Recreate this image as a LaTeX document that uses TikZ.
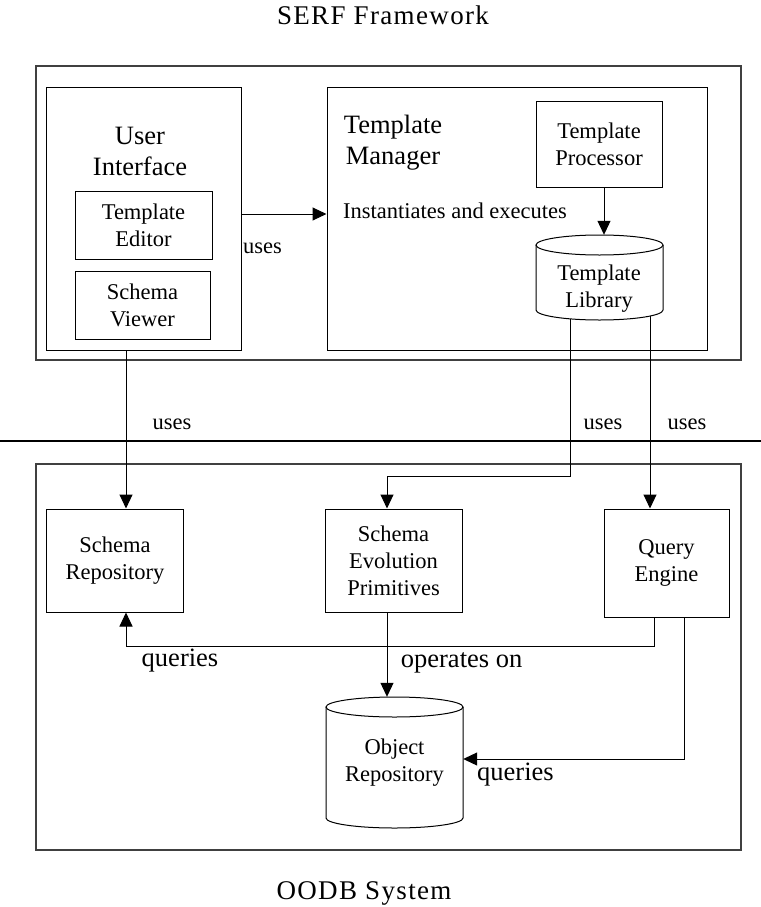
\documentclass[tikz,border=0pt]{standalone}
\usepackage{fontspec}
\setmainfont{Liberation Serif}
\newfontfamily\spacedfont[LetterSpace=5]{Liberation Serif}
\usetikzlibrary{arrows.meta}
\tikzset{
  frame/.style={draw=black!75, line width=1.3bp, inner sep=0pt},
  box/.style={draw, line width=1bp, inner sep=0pt, align=center,
    font=\fontsize{22.5bp}{27bp}\selectfont},
  hidden/.style={inner sep=0pt},
  smalltxt/.style={inner sep=0pt, align=center, font=\fontsize{22.5bp}{27bp}\selectfont},
  bigtxt/.style={inner sep=0pt, align=center, font=\fontsize{26.5bp}{31.5bp}\selectfont},
  titletxt/.style={inner sep=0pt, font=\spacedfont\fontsize{27bp}{30bp}\selectfont},
  arr/.style={-{Triangle[length=14bp,width=13bp]}, line width=1bp},
  conn/.style={line width=1bp},
  cyl/.style={line width=1bp}
}
\begin{document}
\begin{tikzpicture}[x=1bp,y=-1bp]
\useasboundingbox (0,0) rectangle (761,907);

% titles
\node[titletxt, anchor=base] (serftitle) at (383,24) {SERF Framework};
\node[titletxt, anchor=base] (oodbtitle) at (364,899) {OODB System};

% frames
\node[frame, minimum width=705bp, minimum height=294bp] (serf) at (388.5,213) {};
\node[frame, minimum width=705bp, minimum height=386bp] (oodb) at (388.5,657) {};
\draw[line width=1.6bp] (0,441) coordinate (sepL) -- (761,441) coordinate (sepR);

% upper part
\node[box, minimum width=194bp, minimum height=262bp] (ui) at (144,219) {};
\node[bigtxt] (uitxt) at (140,151.5) {User\\Interface};
\node[box, minimum width=137bp, minimum height=68bp] (te) at (143.5,225) {Template\\Editor};
\node[box, minimum width=135bp, minimum height=68bp] (sv) at (142.5,305) {Schema\\Viewer};

\node[box, minimum width=380bp, minimum height=262bp] (tm) at (517,219) {};
\node[bigtxt] (tmtxt) at (393,142.8) {Template\\Manager};
\node[smalltxt, anchor=base west] (inst) at (343,218) {Instantiates and executes};
\node[box, minimum width=126bp, minimum height=86bp] (tp) at (599,144) {Template\\Processor};

% template library cylinder
\node[hidden, minimum width=127bp, minimum height=85bp] (tl) at (599.5,277.5) {};
\draw[cyl] (536,245) -- (536,310) arc[start angle=180, end angle=360, x radius=63.5bp, y radius=10bp] -- (663,245);
\draw[cyl] (599.5,245) ellipse[x radius=63.5bp, y radius=10bp];
\node[smalltxt] (tltxt) at (599,289) {Template\\Library};

% lower part
\node[box, minimum width=136bp, minimum height=103bp] (sr) at (115,560.5) {Schema\\Repository};
\node[box, minimum width=137bp, minimum height=103bp] (sep) at (393.5,560.5) {Schema\\Evolution\\Primitives};
\node[box, minimum width=125bp, minimum height=108bp] (qe) at (666.5,563) {Query\\Engine};

% object repository cylinder
\node[hidden, minimum width=137bp, minimum height=131bp] (or) at (394.5,762.5) {};
\draw[cyl] (326,707) -- (326,818) arc[start angle=180, end angle=360, x radius=68.5bp, y radius=10bp] -- (463,707);
\draw[cyl] (394.5,707) ellipse[x radius=68.5bp, y radius=10bp];
\node[smalltxt] (ortxt) at (394.5,762.8) {Object\\Repository};

% helper coordinates
\coordinate (ymid) at (0,214);
\coordinate (xF) at (604,0);
\coordinate (xUI) at (126,0);
\coordinate (xE) at (387,0);
\coordinate (xC) at (654,0);
\coordinate (xD) at (684,0);
\coordinate (yR1) at (0,476);
\coordinate (yR2) at (0,646);
\coordinate (yR3) at (0,759);
\coordinate (tl1) at (570,318.9);
\coordinate (tl2) at (650,316.1);

% connectors
\draw[arr] (ui.east |- ymid) -- (tm.west |- ymid);
\draw[arr] (tp.south -| xF) -- (tl.north -| xF);
\draw[arr] (ui.south -| xUI) -- (sr.north -| xUI);
\draw[arr] (tl1) -- (tl1 |- yR1) -- (xE |- yR1) -- (sep.north -| xE);
\draw[arr] (tl2) -- (qe.north -| tl2);
\draw[arr] (qe.south -| xC) -- (xC |- yR2) -- (xUI |- yR2) -- (sr.south -| xUI);
\draw[arr] (qe.south -| xD) -- (xD |- yR3) -- (or.east |- yR3);
\draw[arr] (sep.south -| xE) -- (or.north -| xE);

% labels
\node[smalltxt, anchor=base west] (uses1) at (243,253) {uses};
\node[smalltxt, anchor=base] (uses2) at (172,429) {uses};
\node[smalltxt, anchor=base] (uses3) at (603,429) {uses};
\node[smalltxt, anchor=base] (uses4) at (687,429) {uses};
\node[bigtxt, anchor=base] (q1) at (180,666) {queries};
\node[bigtxt, anchor=base west] (opon) at (400.7,667) {operates on};
\node[bigtxt, anchor=base west] (q2) at (477,780) {queries};
\end{tikzpicture}
\end{document}
